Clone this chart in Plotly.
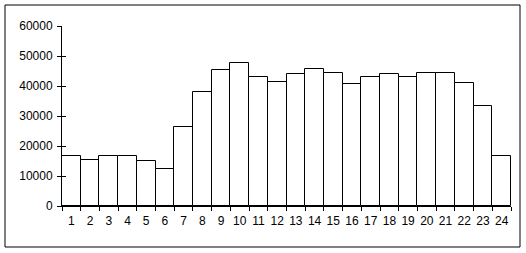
import plotly.graph_objects as go

hours = [str(i) for i in range(1, 25)]
values = [16800, 15500, 16800, 16800, 15100, 12200, 26500, 38100, 45500, 47700,
          43100, 41400, 44100, 45700, 44400, 40700, 43100, 44100, 43100, 44400,
          44400, 41100, 33400, 16800]
y_ticks = [0, 10000, 20000, 30000, 40000, 50000, 60000]

W, H = 526, 253
L, R, T, B = 62, 15, 26, 47

fig = go.Figure()
fig.add_trace(go.Bar(
    x=hours, y=values,
    marker=dict(color="white", line=dict(color="black", width=1)),
    showlegend=False, hoverinfo="x+y",
))

font = dict(family="Liberation Sans, Arial, sans-serif", size=12, color="black")

fig.update_layout(
    width=W, height=H,
    margin=dict(l=L, r=R, t=T, b=B, pad=0),
    paper_bgcolor="white", plot_bgcolor="white",
    bargap=0,
    font=font,
    xaxis=dict(
        type="category", range=[-0.5, 23.5],
        showline=True, linecolor="black", linewidth=1,
        ticks="outside", ticklen=4, tickcolor="black", tickwidth=1,
        tickmode="array", tickvals=hours, ticktext=hours,
        showgrid=False, zeroline=False, tickson="boundaries",
        tickfont=font, tickangle=0, ticklabelstandoff=4,
    ),
    yaxis=dict(
        range=[0, 60000],
        showline=True, linecolor="black", linewidth=1,
        ticks="outside", ticklen=4, tickcolor="black", tickwidth=1,
        tickmode="array", tickvals=y_ticks, ticktext=[str(v) for v in y_ticks],
        showgrid=False, zeroline=False,
        tickfont=font, ticklabelstandoff=2,
    ),
    yaxis2=dict(
        overlaying="y", matches="y", side="left", anchor="x",
        ticks="inside", ticklen=4, tickcolor="black", tickwidth=1,
        tickmode="array", tickvals=y_ticks, showticklabels=False,
        showgrid=False, zeroline=False, showline=False,
    ),
)

# invisible trace so that yaxis2 (the inner half of the cross ticks) renders
fig.add_trace(go.Scatter(x=[hours[0]], y=[0], yaxis="y2", mode="markers",
                         marker=dict(opacity=0), showlegend=False, hoverinfo="skip"))

# outer chart border
pw = W - L - R
ph = H - T - B
fig.add_shape(type="rect", xref="paper", yref="paper",
              x0=(5 - L) / pw, x1=(520 - L) / pw,
              y0=-(247 - (H - B)) / ph, y1=1 + (T - 5) / ph,
              line=dict(color="black", width=1), fillcolor="rgba(0,0,0,0)",
              layer="below")

fig.write_html("out.html")
